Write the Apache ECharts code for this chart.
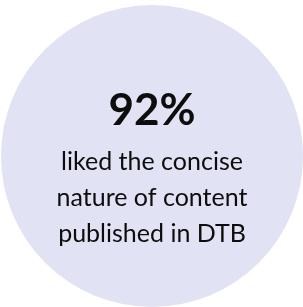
<!DOCTYPE html>
<html>
<head>
<meta charset="utf-8">
<script src="https://cdn.jsdelivr.net/npm/echarts@6/dist/echarts.min.js"></script>
<style>
  html, body { margin: 0; padding: 0; background: #fff; }
  #chart { width: 303px; height: 307px; }
</style>
</head>
<body>
<div id="chart"></div>
<script>
// share of readers who liked the concise content
const share = 92;
const captionLines = ['liked the concise', 'nature of content', 'published in DTB'];

const chart = echarts.init(document.getElementById('chart'));

chart.setOption({
    animation: false,
    series: [{
        type: 'pie',
        silent: true,
        center: [152, 156],
        radius: [0, 151],
        data: [{ value: share, name: 'liked' }],
        itemStyle: { color: '#e1e2f3' },
        labelLine: { show: false },
        label: {
            show: true,
            position: 'center',
            padding: [18, 0, 0, 0],
            formatter: function (p) {
                return '{pct|' + p.value + '%}\n' + captionLines.map(function (l) {
                    return '{cap|' + l + '}';
                }).join('\n');
            },
            rich: {
                pct: {
                    fontFamily: 'Lato',
                    fontWeight: 'bold',
                    fontSize: 44,
                    lineHeight: 66,
                    color: '#0d0d0d'
                },
                cap: {
                    fontFamily: 'Lato',
                    fontSize: 25,
                    lineHeight: 36,
                    color: '#0d0d0d'
                }
            }
        }
    }]
});
</script>
</body>
</html>
